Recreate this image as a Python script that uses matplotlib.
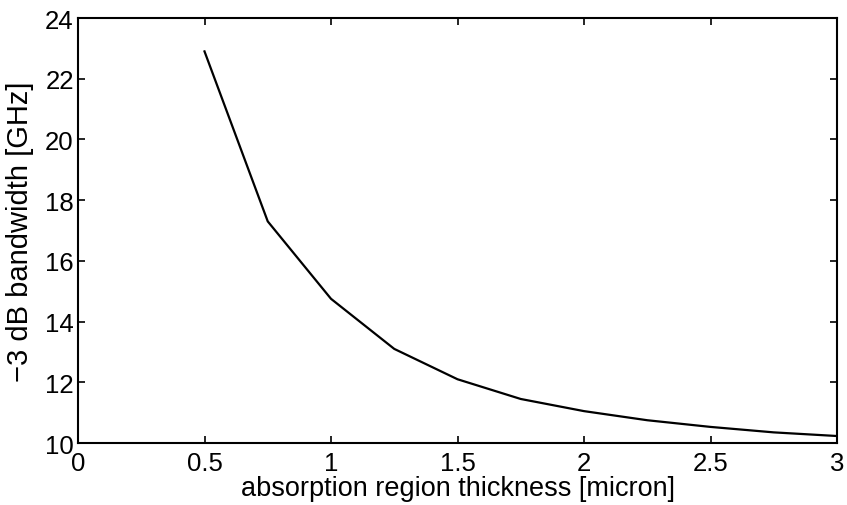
import matplotlib
matplotlib.use("Agg")
import matplotlib.pyplot as plt

thickness = [0.5, 0.75, 1.0, 1.25, 1.5, 1.75, 2.0, 2.25, 2.5, 2.75, 3.0]
bandwidth = [22.9, 17.3, 14.75, 13.1, 12.1, 11.45, 11.05, 10.75, 10.53, 10.35, 10.23]
xticks = [0, 0.5, 1, 1.5, 2, 2.5, 3]
xticklabels = ["0", "0.5", "1", "1.5", "2", "2.5", "3"]
yticks = [10, 12, 14, 16, 18, 20, 22, 24]

plt.rcParams['font.family'] = ['Liberation Sans', 'DejaVu Sans']

fig = plt.figure(figsize=(8.47, 5.06), dpi=100)
ax = fig.add_axes([78/847, 1 - 444/506, (837-78)/847, (444-19)/506])
ax.plot(thickness, bandwidth, color='black', linewidth=1.6)
ax.set_xlim(0, 3)
ax.set_ylim(10, 24)
ax.set_xticks(xticks)
ax.set_xticklabels(xticklabels)
ax.set_yticks(yticks)
ax.tick_params(direction='in', length=5, width=1.2, top=True, right=True,
               labelsize=18.5)
ax.tick_params(axis='x', pad=6)
ax.tick_params(axis='y', pad=3)
for s in ax.spines.values():
    s.set_linewidth(1.5)
ax.set_xlabel("absorption region thickness [micron]", fontsize=19.5, labelpad=0)
ax.set_ylabel("\u22123 dB bandwidth [GHz]", fontsize=21, labelpad=8)
fig.savefig("out.png", dpi=100)
